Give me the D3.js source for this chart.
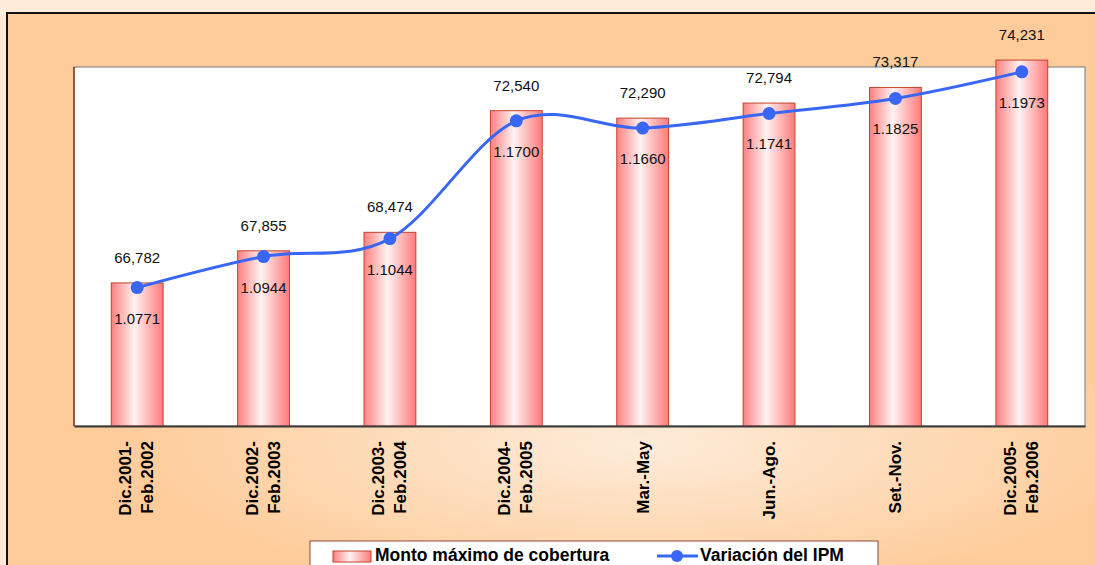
<!DOCTYPE html>
<html>
<head>
<meta charset="utf-8">
<script src="https://cdn.jsdelivr.net/npm/d3@7"></script>
<style>
  body { margin: 0; background: #fdecd9; }
  text { font-family: Arial, "Liberation Sans", sans-serif; }
</style>
</head>
<body>
<div id="chart"></div>
<script>
// datos
const periodos = ["Dic.2001-|Feb.2002", "Dic.2002-|Feb.2003", "Dic.2003-|Feb.2004", "Dic.2004-|Feb.2005",
  "Mar.-May", "Jun.-Ago.", "Set.-Nov.", "Dic.2005-|Feb.2006"];
const montos = [66782, 67855, 68474, 72540, 72290, 72794, 73317, 74231];
const ipm = [1.0771, 1.0944, 1.1044, 1.1700, 1.1660, 1.1741, 1.1825, 1.1973];
const leyenda = ["Monto máximo de cobertura", "Variación del IPM"];

const width = 1095, height = 565;
const plot = { left: 74, right: 1085, top: 67, bottom: 426 };

const svg = d3.select("#chart").append("svg")
  .attr("width", width)
  .attr("height", height);

const defs = svg.append("defs");

// fondo del grafico
const rg = defs.append("radialGradient").attr("id", "fondo")
  .attr("gradientUnits", "userSpaceOnUse")
  .attr("cx", 0).attr("cy", 0).attr("r", 1)
  .attr("gradientTransform", "translate(640,445) scale(520,150)");
rg.append("stop").attr("offset", "0%").attr("stop-color", "#fdecda");
rg.append("stop").attr("offset", "100%").attr("stop-color", "#fecc9a");

// degradado de barras
const bg = defs.append("linearGradient").attr("id", "barra")
  .attr("x1", 0).attr("x2", 1).attr("y1", 0).attr("y2", 0);
bg.append("stop").attr("offset", "0%").attr("stop-color", "#ff8080");
bg.append("stop").attr("offset", "45%").attr("stop-color", "#fff2f2");
bg.append("stop").attr("offset", "100%").attr("stop-color", "#ff7a7a");

svg.append("rect")
  .attr("x", 7).attr("y", 13)
  .attr("width", width).attr("height", height)
  .attr("fill", "url(#fondo)")
  .attr("stroke", "#111").attr("stroke-width", 2);

svg.append("rect")
  .attr("x", plot.left).attr("y", plot.top)
  .attr("width", plot.right - plot.left).attr("height", plot.bottom - plot.top)
  .attr("fill", "#fff")
  .attr("stroke", "#777").attr("stroke-width", 1);

svg.append("line")
  .attr("x1", plot.left).attr("x2", plot.left)
  .attr("y1", plot.top).attr("y2", plot.bottom)
  .attr("stroke", "#8b3a1a").attr("stroke-width", 1.5);

const x = d3.scaleBand()
  .domain(periodos)
  .range([plot.left, plot.right])
  .paddingInner(0.59)
  .paddingOuter(0.295);

const y = d3.scaleLinear().domain([62000, 74000]).range([plot.bottom, plot.top]);
const y2 = d3.scaleLinear().domain([1.0, 1.2]).range([plot.bottom, plot.top]);

// barras
svg.append("g").selectAll("rect")
  .data(montos)
  .join("rect")
  .attr("x", (d, i) => x(periodos[i]))
  .attr("y", d => y(d))
  .attr("width", x.bandwidth())
  .attr("height", d => plot.bottom - y(d))
  .attr("fill", "url(#barra)")
  .attr("stroke", "#c0442a")
  .attr("stroke-width", 1);

// eje x
const xAxis = svg.append("g")
  .attr("transform", `translate(0,${plot.bottom})`)
  .call(d3.axisBottom(x).tickSize(0).tickFormat(""));
xAxis.select(".domain").attr("stroke", "#3a3a3a").attr("stroke-width", 2);

xAxis.selectAll(".tick").each(function (d) {
  const lines = d.split("|");
  const t = d3.select(this).select("text")
    .attr("transform", "translate(0,15) rotate(-90)")
    .attr("text-anchor", "end")
    .attr("y", 0)
    .attr("x", 0)
    .attr("dy", null)
    .attr("fill", "#000")
    .style("font-size", "17px")
    .style("font-weight", "bold");
  const offset = lines.length === 1 ? 6 : -6;
  lines.forEach((l, k) => {
    t.append("tspan")
      .attr("x", 0)
      .attr("y", offset + k * 22)
      .text(l);
  });
});

// etiquetas de barras
const fmtMonto = d3.format(",");
svg.append("g").selectAll("text")
  .data(montos)
  .join("text")
  .attr("x", (d, i) => x(periodos[i]) + x.bandwidth() / 2)
  .attr("y", d => y(d) - 20)
  .attr("text-anchor", "middle")
  .style("font-size", "15px")
  .attr("fill", "#111")
  .text(d => fmtMonto(d));

// linea IPM
const cx = (d, i) => x(periodos[i]) + x.bandwidth() / 2;
const line = d3.line()
  .x(cx)
  .y(d => y2(d))
  .curve(d3.curveCardinal.tension(0));

svg.append("path")
  .datum(ipm)
  .attr("d", line)
  .attr("fill", "none")
  .attr("stroke", "#3a66f5")
  .attr("stroke-width", 3);

svg.append("g").selectAll("circle")
  .data(ipm)
  .join("circle")
  .attr("cx", cx)
  .attr("cy", d => y2(d))
  .attr("r", 6.5)
  .attr("fill", "#3a66f5");

const fmtIpm = d3.format(".4f");
svg.append("g").selectAll("text")
  .data(ipm)
  .join("text")
  .attr("x", cx)
  .attr("y", d => y2(d) + 36)
  .attr("text-anchor", "middle")
  .style("font-size", "15px")
  .attr("fill", "#111")
  .text(d => fmtIpm(d));

// leyenda
const lg = svg.append("g");
lg.append("rect")
  .attr("x", 310).attr("y", 541)
  .attr("width", 568).attr("height", 40)
  .attr("fill", "#fff")
  .attr("stroke", "#8a4a3a").attr("stroke-width", 1);
lg.append("rect")
  .attr("x", 333).attr("y", 551)
  .attr("width", 38).attr("height", 11)
  .attr("fill", "url(#barra)")
  .attr("stroke", "#c0442a");
lg.append("text")
  .attr("x", 375).attr("y", 561)
  .style("font-size", "17.5px").style("font-weight", "bold")
  .text(leyenda[0]);
lg.append("line")
  .attr("x1", 657).attr("x2", 698)
  .attr("y1", 556).attr("y2", 556)
  .attr("stroke", "#3a66f5").attr("stroke-width", 3);
lg.append("circle")
  .attr("cx", 677).attr("cy", 556).attr("r", 6)
  .attr("fill", "#3a66f5");
lg.append("text")
  .attr("x", 700).attr("y", 561)
  .style("font-size", "17.5px").style("font-weight", "bold")
  .text(leyenda[1]);
</script>
</body>
</html>
